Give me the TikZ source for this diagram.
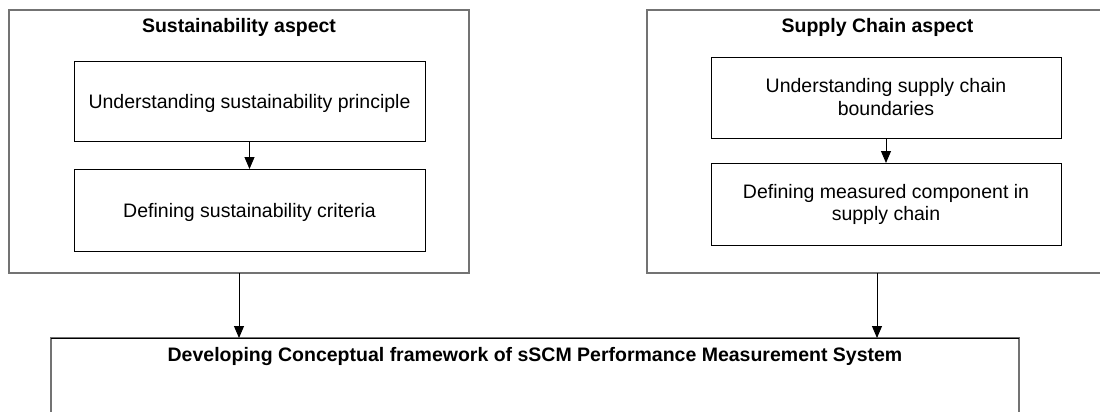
\documentclass[tikz,border=0pt]{standalone}
\usepackage{fontspec}
\setmainfont{Liberation Sans}
\usetikzlibrary{arrows.meta}
\begin{document}
\begin{tikzpicture}[x=1pt,y=-1pt,
  outerbox/.style={draw=black!55, line width=1.3pt, inner sep=0pt, outer sep=0pt, anchor=north west},
  innerbox/.style={draw=black, line width=0.9pt, inner sep=0pt, outer sep=0pt, anchor=north west},
  txt/.style={font=\fontsize{19.5}{22.3}\selectfont, inner sep=0pt, anchor=base, align=center},
  ttl/.style={font=\fontsize{19.5}{22.3}\selectfont\bfseries, inner sep=0pt, anchor=base},
  arr/.style={-{Triangle[width=10pt,length=12pt]}, line width=0.9pt, draw=black}]
\useasboundingbox (0,0) rectangle (1100,412);
\clip (0,0) rectangle (1100,412);
% left group
\node[outerbox, minimum width=460pt, minimum height=263pt] (lo) at (9,10) {};
\node[ttl] (lt) at (239,32.5) {Sustainability aspect};
\node[innerbox, minimum width=351pt, minimum height=80pt] (l1) at (74,61) {};
\node[txt] (l1t) at (l1.center |- 0,108) {Understanding sustainability principle};
\node[innerbox, minimum width=351pt, minimum height=82pt] (l2) at (74,169) {};
\node[txt] (l2t) at (l2.center |- 0,217) {Defining sustainability criteria};
% right group
\node[outerbox, minimum width=460pt, minimum height=263pt] (ro) at (647,10) {};
\node[ttl] (rt) at (877.5,33) {Supply Chain aspect};
\node[innerbox, minimum width=350pt, minimum height=81pt] (r1) at (711,57) {};
\node[txt] (r1t) at (r1.center |- 0,115) {Understanding supply chain\\boundaries};
\node[innerbox, minimum width=350pt, minimum height=82pt] (r2) at (711,163) {};
\node[txt] (r2t) at (r2.center |- 0,220.5) {Defining measured component in\\supply chain};
% bottom
\node[outerbox, minimum width=968pt, minimum height=120pt] (bot) at (51,338) {};
\draw[black, line width=0.9pt] (bot.north west) -- (bot.north east);
\node[ttl] (bt) at (535,361) {Developing Conceptual framework of sSCM Performance Measurement System};
% arrows
\draw[arr] (l1.south) -- (l2.north);
\draw[arr] (r1.south) -- (r2.north);
\draw[arr] (lo.south) -- (lo.south |- bot.north);
\draw[arr] (ro.south) -- (ro.south |- bot.north);
\end{tikzpicture}
\end{document}
